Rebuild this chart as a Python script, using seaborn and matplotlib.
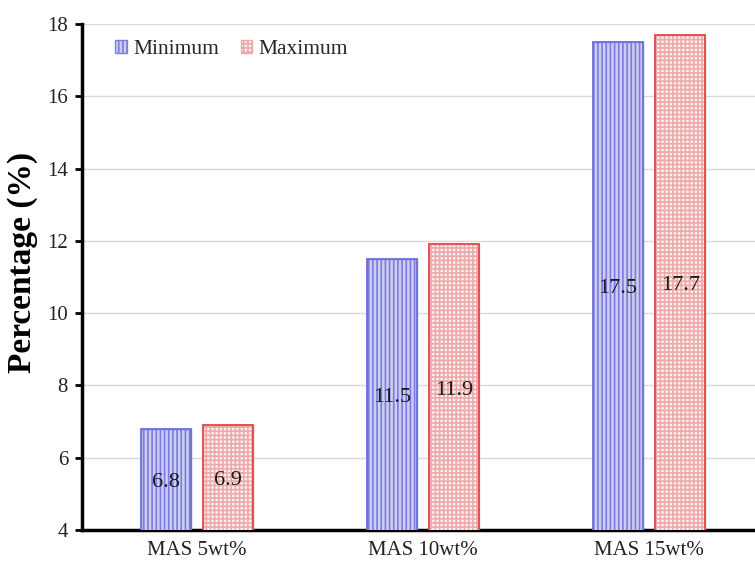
import matplotlib
matplotlib.use("Agg")
import matplotlib.pyplot as plt
import seaborn as sns
import pandas as pd

# Data
categories = ["MAS 5wt%", "MAS 10wt%", "MAS 15wt%"]
series = ["Minimum", "Maximum"]
minimum = [6.8, 11.5, 17.5]
maximum = [6.9, 11.9, 17.7]
y_ticks = [4, 6, 8, 10, 12, 14, 16, 18]

df = pd.DataFrame({
    "cat": categories * 2,
    "series": [series[0]] * 3 + [series[1]] * 3,
    "value": minimum + maximum,
})

sns.set_theme(style="white")
plt.rcParams["font.family"] = ["Liberation Serif", "DejaVu Serif"]
plt.rcParams["hatch.linewidth"] = 1.2

fig = plt.figure(figsize=(7.55, 5.63), dpi=100)
ax = fig.add_axes([82 / 755, 33 / 563, 673 / 755, 506 / 563])

face = {"Minimum": "#c9c9f3", "Maximum": "#fcefef"}
edge = {"Minimum": "#7b7be4", "Maximum": "#eeaaaa"}
border = {"Minimum": "#7070dc", "Maximum": "#e04848"}
hatch = {"Minimum": "||||", "Maximum": "++++"}

sns.barplot(data=df, x="cat", y="value", hue="series", order=categories,
            hue_order=series, palette=face, width=0.553, gap=0.2,
            legend=False, ax=ax, zorder=3)

for name, cont in zip(series, ax.containers):
    for p in cont.patches:
        p.set_hatch(hatch[name])
        p.set_edgecolor(edge[name])
        p.set_linewidth(1.0)
        p.set_zorder(3)
        # crisp outline on top of the hatch
        outline = plt.Rectangle(p.get_xy(), p.get_width(), p.get_height(),
                                fill=False, edgecolor=border[name],
                                linewidth=1.3, zorder=4)
        ax.add_patch(outline)
    for p, v in zip(cont.patches, cont.datavalues):
        ax.text(p.get_x() + p.get_width() / 2, (4 + v) / 2 - 0.08, f"{v:g}",
                ha="center", va="center", fontsize=16, color="#1a1a1a",
                zorder=5)

ax.set_ylim(4, 18)
ax.set_yticks(y_ticks)
ax.set_xlim(-0.509, 2.469)
ax.yaxis.grid(True, color="#d9d9d9", linewidth=1.0, zorder=0)
ax.set_axisbelow(True)

for s in ["top", "right"]:
    ax.spines[s].set_visible(False)
for s in ["left", "bottom"]:
    ax.spines[s].set_color("black")
    ax.spines[s].set_linewidth(2.5)

ax.tick_params(axis="y", which="major", direction="out", length=5, width=2,
               color="black", labelsize=15, labelcolor="#222222", pad=5,
               left=True)
ax.tick_params(axis="x", length=0, labelsize=15, labelcolor="#222222", pad=8)
ax.set_xlabel("")
ax.set_ylabel("Percentage (%)", fontsize=24, fontweight="bold",
              color="black")
ax.yaxis.set_label_coords(-0.066, 0.528)

handles = [ax.containers[0].patches[0], ax.containers[1].patches[0]]
leg = ax.legend(handles, series, loc="upper left", ncol=2, frameon=False,
                fontsize=15.5, handlelength=0.55, handleheight=0.55,
                handletextpad=0.3, columnspacing=1.0, borderaxespad=0,
                bbox_to_anchor=(0.036, 0.985))

fig.savefig("out.png", dpi=100)
